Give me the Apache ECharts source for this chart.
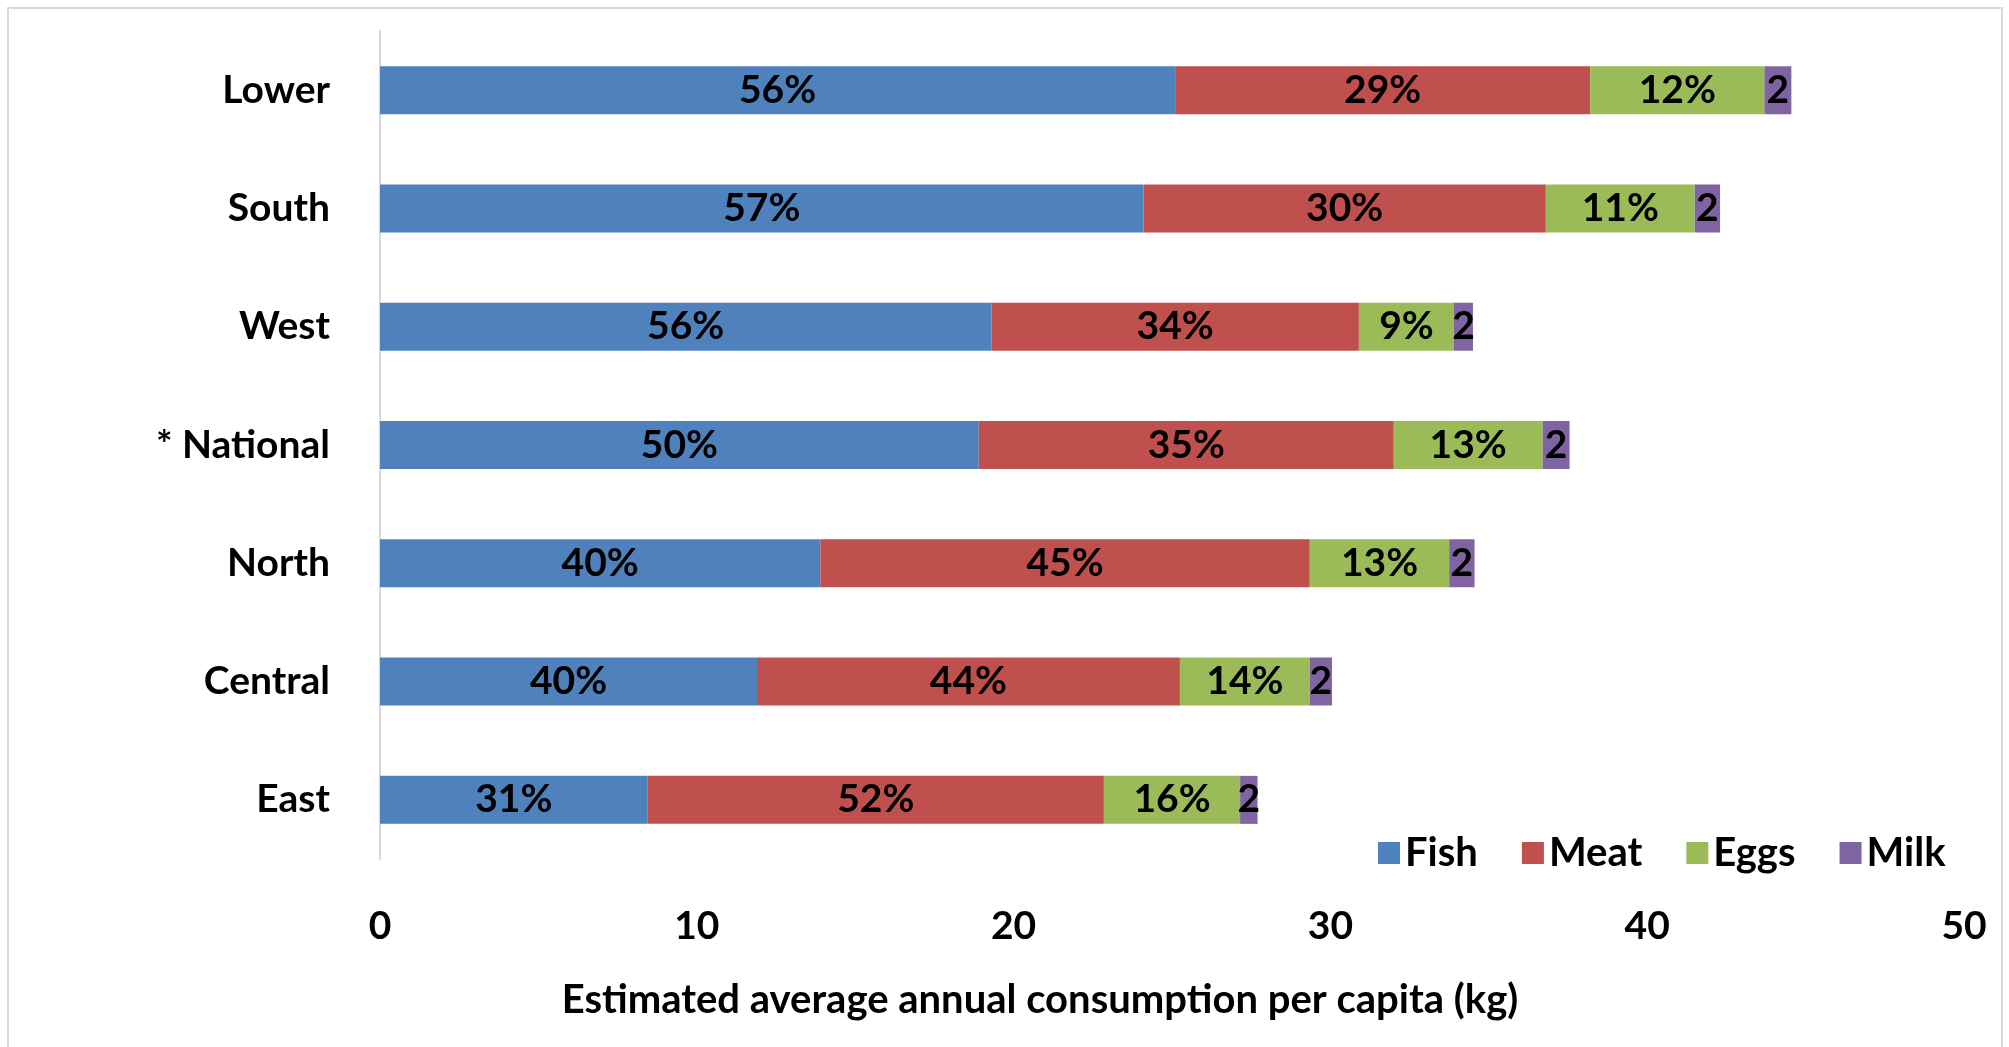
<!DOCTYPE html>
<html>
<head>
<meta charset="utf-8">
<script src="https://cdn.jsdelivr.net/npm/echarts@6/dist/echarts.min.js"></script>
<style>
  html, body { margin: 0; padding: 0; background: #fff; }
  #chart { width: 2009px; height: 1047px; }
</style>
</head>
<body>
<div id="chart"></div>
<script>
// regions, top to bottom
const regions = ['Lower', 'South', 'West', '* National', 'North', 'Central', 'East'];
// kg per capita per year
const fish = [25.1, 24.1, 19.3, 18.9, 13.9, 11.9, 8.45];
const meat = [13.1, 12.7, 11.6, 13.1, 15.45, 13.35, 14.4];
const eggs = [5.5, 4.7, 3.0, 4.7, 4.4, 4.1, 4.3];
const milk = [0.85, 0.8, 0.6, 0.85, 0.8, 0.7, 0.55];
// share labels shown in the bars
const fishPct = ['56%', '57%', '56%', '50%', '40%', '40%', '31%'];
const meatPct = ['29%', '30%', '34%', '35%', '45%', '44%', '52%'];
const eggsPct = ['12%', '11%', '9%', '13%', '13%', '14%', '16%'];
const milkPct = ['2', '2', '2', '2', '2', '2', '2'];
const xTicks = [0, 10, 20, 30, 40, 50];

const FONT = 'Lato';
const FS = 39;
const colors = ['#4F81BD', '#C0504D', '#9BBB59', '#8064A2'];

function makeSeries(name, values, labels) {
  return {
    name: name,
    type: 'bar',
    stack: 'total',
    barWidth: 48,
    data: values,
    label: {
      show: true,
      position: 'inside',
      color: '#000',
      fontFamily: FONT,
      fontWeight: 'bold',
      fontSize: FS,
      formatter: function (p) { return labels[p.dataIndex]; }
    }
  };
}

const chart = echarts.init(document.getElementById('chart'), null, { renderer: 'canvas' });
chart.setOption({
  animation: false,
  backgroundColor: '#fff',
  color: colors,
  textStyle: { fontFamily: FONT },
  graphic: [{
    type: 'rect',
    shape: { x: 8, y: 8, width: 1994, height: 1060 },
    style: { fill: 'none', stroke: '#D9D9D9', lineWidth: 2 }
  }],
  title: {
    text: 'Estimated average annual consumption per capita (kg)',
    left: 1035,
    top: 975,
    textAlign: 'center',
    textStyle: { fontFamily: FONT, fontWeight: 'bold', fontSize: 40, color: '#000' }
  },
  legend: {
    left: 1373,
    top: 828,
    itemWidth: 22,
    itemHeight: 22,
    itemGap: 44,
    icon: 'rect',
    textStyle: { fontFamily: FONT, fontWeight: 'bold', fontSize: 40, color: '#000' },
    data: ['Fish', 'Meat', 'Eggs', 'Milk']
  },
  grid: { left: 380, right: 45, top: 31, bottom: 188 },
  xAxis: {
    type: 'value',
    min: xTicks[0],
    max: xTicks[xTicks.length - 1],
    interval: 10,
    axisLine: { show: false },
    axisTick: { show: false },
    splitLine: { show: false },
    axisLabel: { margin: 48, color: '#000', fontFamily: FONT, fontWeight: 'bold', fontSize: FS }
  },
  yAxis: {
    type: 'category',
    inverse: true,
    data: regions,
    axisLine: { show: true, lineStyle: { color: '#D9D9D9', width: 2 } },
    axisTick: { show: false },
    axisLabel: { margin: 50, color: '#000', fontFamily: FONT, fontWeight: 'bold', fontSize: FS }
  },
  series: [
    makeSeries('Fish', fish, fishPct),
    makeSeries('Meat', meat, meatPct),
    makeSeries('Eggs', eggs, eggsPct),
    makeSeries('Milk', milk, milkPct)
  ]
});
</script>
</body>
</html>
